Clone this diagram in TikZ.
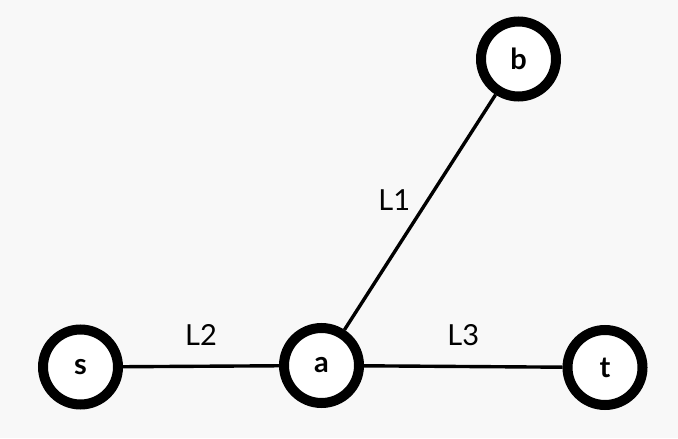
\documentclass[tikz,border=0pt]{standalone}
\usepackage{fontspec}
\setmainfont{Lato}
\usepackage{tikz}
\usetikzlibrary{positioning}

\definecolor{bgcol}{HTML}{F8F8F8}

\tikzset{
  vertex/.style = {circle, draw = black, fill = white, line width = 5pt,
    minimum size = 37.5pt, inner sep = 0pt, font = \fontsize{14.5}{16}\selectfont\bfseries},
  link/.style = {line width = 1.7pt},
  lbl/.style = {font = \fontsize{14.5}{16}\selectfont}
}

\begin{document}
\begin{tikzpicture}[x=0.5pt, y=-0.5pt]
  \fill [bgcol] (0,0) rectangle (678,438);
  \useasboundingbox (0,0) rectangle (678,438);

  \node (s) [vertex] at (80.5,367) {s};
  \node (a) [vertex] at (321.5,365.5) {a};
  \node (t) [vertex] at (605,367.5) {t};
  \node (b) [vertex] at (518.5,59) {b};

  \path [link]
    (a) edge node [lbl, pos=0.55, left=4.5pt] {L1} (b)
    (s) edge node [lbl, above=6pt] {L2} (a)
    (a) edge node [lbl, above=6pt] {L3} (t);
\end{tikzpicture}
\end{document}
